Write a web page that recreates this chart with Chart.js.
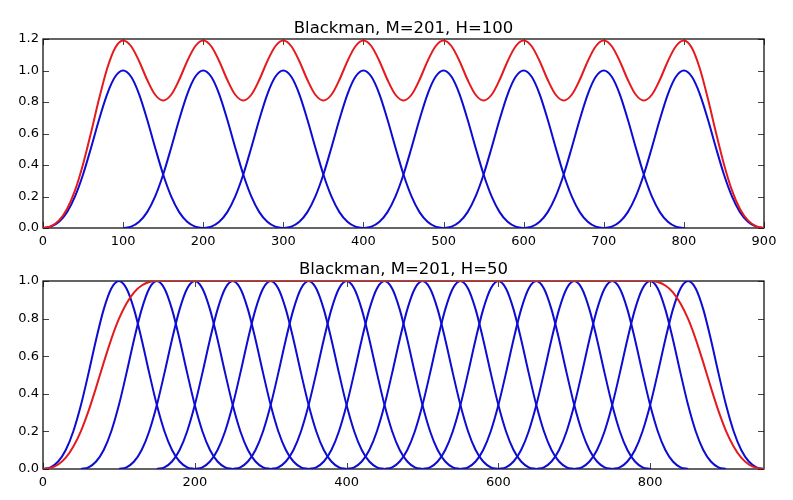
<!DOCTYPE html>
<html>
<head>
<meta charset="utf-8">
<script src="https://cdn.jsdelivr.net/npm/chart.js@4/dist/chart.umd.min.js"></script>
<style>
  html, body { margin: 0; padding: 0; background: #ffffff; }
  #wrap { position: relative; width: 793px; height: 500px; }
  canvas { display: block; position: absolute; left: 0; }
  #c1 { top: 0; }
  #c2 { top: 250px; }
</style>
</head>
<body>
<div id="wrap">
  <canvas id="c1" width="793" height="250"></canvas>
  <canvas id="c2" width="793" height="250"></canvas>
</div>
<script>
// ---- data ----
const sampleStep = 10;

// one Blackman window (M=201), sampled every 10 samples around its centre
const windowOffsets = [-100,-90,-80,-70,-60,-50,-40,-30,-20,-10,0,10,20,30,40,50,60,70,80,90,100];
const windowShape   = [0.000,0.009,0.040,0.101,0.201,0.340,0.510,0.689,0.849,0.960,1.000,0.960,0.849,0.689,0.510,0.340,0.201,0.101,0.040,0.009,0.000];

// window centres
const centersTop    = [100,200,300,400,500,600,700,800];
const centersBottom = [100,150,200,250,300,350,400,450,500,550,600,650,700,750,800,850];

// normalised overlap-add (red), one value every 10 samples from 0
const overlapTop = [
  0.000,0.011,0.048,0.121,0.239,0.405,0.607,0.820,1.011,1.143,1.190,
  1.154,1.059,0.941,0.846,0.810,0.846,0.941,1.059,1.154,1.190,
  1.154,1.059,0.941,0.846,0.810,0.846,0.941,1.059,1.154,1.190,
  1.154,1.059,0.941,0.846,0.810,0.846,0.941,1.059,1.154,1.190,
  1.154,1.059,0.941,0.846,0.810,0.846,0.941,1.059,1.154,1.190,
  1.154,1.059,0.941,0.846,0.810,0.846,0.941,1.059,1.154,1.190,
  1.154,1.059,0.941,0.846,0.810,0.846,0.941,1.059,1.154,1.190,
  1.154,1.059,0.941,0.846,0.810,0.846,0.941,1.059,1.154,1.190,
  1.143,1.011,0.820,0.607,0.405,0.239,0.121,0.048,0.011,0.000
];
const overlapBottom = [
  0.000,0.006,0.024,0.060,0.120,0.202,0.309,0.434,0.566,0.691,0.798,0.880,0.940,0.976,0.995,1.000,
  1.000,1.000,1.000,1.000,1.000,1.000,1.000,1.000,1.000,1.000,1.000,1.000,1.000,1.000,1.000,1.000,
  1.000,1.000,1.000,1.000,1.000,1.000,1.000,1.000,1.000,1.000,1.000,1.000,1.000,1.000,1.000,1.000,
  1.000,1.000,1.000,1.000,1.000,1.000,1.000,1.000,1.000,1.000,1.000,1.000,1.000,1.000,1.000,1.000,
  1.000,1.000,1.000,1.000,1.000,1.000,1.000,1.000,1.000,1.000,1.000,1.000,1.000,1.000,1.000,1.000,
  1.000,0.995,0.976,0.940,0.880,0.798,0.691,0.566,0.434,0.309,0.202,0.120,0.060,0.024,0.006,0.000
];

// tick labels
const xTicksTop    = [0,100,200,300,400,500,600,700,800,900];
const yTicksTop    = [0.0,0.2,0.4,0.6,0.8,1.0,1.2];
const xTicksBottom = [0,200,400,600,800];
const yTicksBottom = [0.0,0.2,0.4,0.6,0.8,1.0];

const titles = ['Blackman, M=201, H=100', 'Blackman, M=201, H=50'];

// ---- styling ----
const BLUE = '#0c0cd2';
const RED = '#e41a1c';
const FONT = '"DejaVu Sans", sans-serif';

function windowData(c) {
  return windowOffsets.map((o, i) => ({ x: c + o, y: windowShape[i] }));
}
function seriesData(vals) {
  return vals.map((v, i) => ({ x: i * sampleStep, y: v }));
}

const framePlugin = {
  id: 'frame',
  beforeDatasetsDraw(chart) {
    const ctx = chart.ctx, a = chart.chartArea;
    const xs = chart.scales.x, ys = chart.scales.y;
    ctx.save();
    ctx.strokeStyle = '#444';
    ctx.lineWidth = 1;
    const tl = 6;
    xs.ticks.forEach(t => {
      const px = Math.round(xs.getPixelForValue(t.value)) + 0.5;
      ctx.beginPath();
      ctx.moveTo(px, a.bottom); ctx.lineTo(px, a.bottom - tl);
      ctx.moveTo(px, a.top); ctx.lineTo(px, a.top + tl);
      ctx.stroke();
    });
    ys.ticks.forEach(t => {
      const py = Math.round(ys.getPixelForValue(t.value)) + 0.5;
      ctx.beginPath();
      ctx.moveTo(a.left, py); ctx.lineTo(a.left + tl, py);
      ctx.moveTo(a.right, py); ctx.lineTo(a.right - tl, py);
      ctx.stroke();
    });
    ctx.strokeStyle = '#111';
    ctx.lineWidth = 1.3;
    ctx.strokeRect(a.left, a.top, a.right - a.left, a.bottom - a.top);
    ctx.restore();
  },
  afterDraw(chart, args, opts) {
    const ctx = chart.ctx, a = chart.chartArea;
    ctx.save();
    ctx.fillStyle = '#000';
    ctx.font = '16.5px ' + FONT;
    ctx.textAlign = 'center';
    ctx.textBaseline = 'alphabetic';
    ctx.fillText(opts.text, (a.left + a.right) / 2, opts.baseline);
    ctx.restore();
  }
};

function makeChart(id, cfg) {
  const datasets = [{
    data: seriesData(cfg.overlap),
    borderColor: RED, borderWidth: 2, pointRadius: 0,
    cubicInterpolationMode: 'monotone', order: 0
  }].concat(cfg.centers.map(c => ({
    data: windowData(c),
    borderColor: BLUE, borderWidth: 2, pointRadius: 0,
    cubicInterpolationMode: 'monotone', order: 1
  })));

  return new Chart(document.getElementById(id), {
    type: 'line',
    data: { datasets },
    plugins: [framePlugin],
    options: {
      responsive: false,
      animation: false,
      events: [],
      layout: { padding: { left: 0, right: 29, top: cfg.top, bottom: 0 } },
      plugins: {
        legend: { display: false },
        tooltip: { enabled: false },
        title: { display: false },
        frame: { text: cfg.title, baseline: cfg.titleBaseline }
      },
      scales: {
        x: {
          type: 'linear', min: 0, max: cfg.xMax,
          afterBuildTicks: s => { s.ticks = cfg.xTicks.map(v => ({ value: v })); },
          afterFit: s => { s.height = cfg.xAxisH; },
          grid: { display: false, drawTicks: false },
          border: { display: false },
          ticks: {
            color: '#000', padding: 6, maxRotation: 0, autoSkip: false,
            font: { family: FONT, size: 13 },
            callback: v => String(v)
          }
        },
        y: {
          type: 'linear', min: 0, max: cfg.yMax,
          afterBuildTicks: s => { s.ticks = cfg.yTicks.map(v => ({ value: v })); },
          afterFit: s => { s.width = 43; },
          grid: { display: false, drawTicks: false },
          border: { display: false },
          ticks: {
            color: '#000', padding: 4, autoSkip: false,
            font: { family: FONT, size: 13 },
            callback: v => Number(v).toFixed(1)
          }
        }
      }
    }
  });
}

makeChart('c1', {
  overlap: overlapTop, centers: centersTop,
  xTicks: xTicksTop, yTicks: yTicksTop,
  xMax: 900, yMax: 1.2, top: 39, xAxisH: 22,
  title: titles[0], titleBaseline: 33
});
makeChart('c2', {
  overlap: overlapBottom, centers: centersBottom,
  xTicks: xTicksBottom, yTicks: yTicksBottom,
  xMax: 950, yMax: 1.0, top: 31, xAxisH: 31,
  title: titles[1], titleBaseline: 24
});
</script>
</body>
</html>
